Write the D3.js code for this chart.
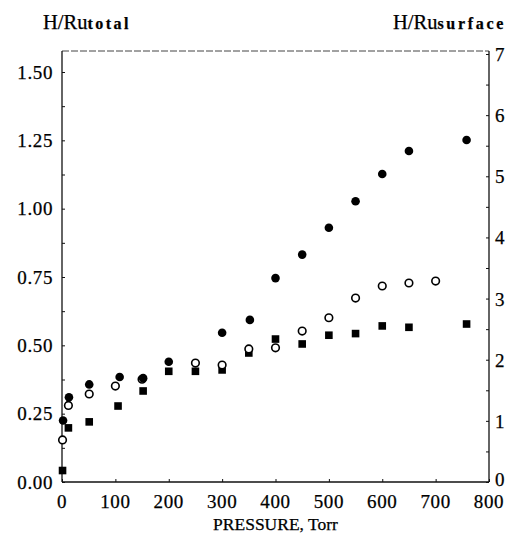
<!DOCTYPE html>
<html><head><meta charset="utf-8">
<script src="https://cdn.jsdelivr.net/npm/d3@7"></script>
<style>body{margin:0;background:#fff}svg{display:block}text{font-family:"Liberation Serif","DejaVu Serif",serif;fill:#000;stroke:#000;stroke-width:0.25}</style>
</head><body><svg id="c" width="507" height="538"></svg>
<script>
// Data: [pressure (Torr), H/Ru_total]
const filledCircles = [[2,0.225],[13,0.31],[51,0.357],[108,0.384],[152,0.38],[200,0.44],[300,0.546],[352,0.593],[400,0.746],[450,0.832],[500,0.93],[550,1.027],[600,1.127],[650,1.211],[758,1.251]];
const openCircles = [[1,0.154],[12,0.28],[51,0.322],[100,0.351],[150,0.376],[250,0.435],[300,0.428],[350,0.487],[400,0.491],[450,0.552],[500,0.601],[550,0.673],[600,0.717],[650,0.728],[700,0.735]];
const filledSquares = [[1,0.042],[12,0.198],[51,0.22],[105,0.278],[152,0.333],[200,0.405],[250,0.405],[300,0.41],[350,0.472],[400,0.523],[450,0.505],[500,0.537],[550,0.543],[600,0.571],[650,0.566],[758,0.578]];
const xTicks = [0,100,200,300,400,500,600,700,800];
const leftTicks = [0,0.25,0.5,0.75,1.0,1.25,1.5];
const rightTicks = [0,1,2,3,4,5,6,7];

const svg = d3.select("#c");
const L=62,R=489,T=51,B=482;
const x = d3.scaleLinear().domain([0,800]).range([L,R]);
const y = d3.scaleLinear().domain([0,1.5]).range([B,72]);
const y2 = d3.scaleLinear().domain([0,7]).range([B,54]);

// frame
svg.append("line").attr("x1",L).attr("x2",R).attr("y1",T).attr("y2",T).attr("stroke","#444").attr("stroke-width",1).attr("stroke-dasharray","7,2");
svg.append("line").attr("x1",L).attr("x2",R).attr("y1",B).attr("y2",B).attr("stroke","#111").attr("stroke-width",1.3);
svg.append("line").attr("x1",L).attr("x2",L).attr("y1",T).attr("y2",B).attr("stroke","#111").attr("stroke-width",1.3);
svg.append("line").attr("x1",R).attr("x2",R).attr("y1",T).attr("y2",B).attr("stroke","#111").attr("stroke-width",1.3);

// left axis
const ga = svg.append("g").attr("transform",`translate(${L},0)`)
  .call(d3.axisRight(y).tickValues(d3.range(0,1.5001,0.125)).tickSize(3).tickFormat(""));
ga.select(".domain").remove();
ga.selectAll("line").attr("stroke","#111");
svg.selectAll(".ll").data(leftTicks).join("text").attr("class","ll")
  .attr("x",53).attr("y",d=>y(d)+6.5).attr("text-anchor","end").attr("font-size",19).attr("letter-spacing",0.6).text(d=>d.toFixed(2));

// right axis
const gr = svg.append("g").attr("transform",`translate(${R},0)`)
  .call(d3.axisLeft(y2).tickValues(d3.range(0,7.001,0.5)).tickSize(3).tickFormat(""));
gr.select(".domain").remove();
gr.selectAll("line").attr("stroke","#111");
svg.selectAll(".rl").data(rightTicks).join("text").attr("class","rl")
  .attr("x",495).attr("y",d=>y2(d)+ (d===0?4:7)).attr("font-size",19).text(d=>d);

// bottom axis
const gb = svg.append("g").attr("transform",`translate(0,${B})`)
  .call(d3.axisTop(x).tickValues(xTicks).tickSize(3).tickFormat(""));
gb.select(".domain").remove();
gb.selectAll("line").attr("stroke","#111");
svg.selectAll(".bl").data(xTicks).join("text").attr("class","bl")
  .attr("x",d=>x(d)).attr("y",508).attr("text-anchor","middle").attr("font-size",19).attr("letter-spacing",0.6).text(d=>d);

svg.append("text").attr("x",(L+R)/2).attr("y",530).attr("text-anchor","middle").attr("font-size",17.5).text("PRESSURE, Torr");

// titles
const t1 = svg.append("text").attr("x",43).attr("y",29).attr("font-size",20.5);
t1.append("tspan").text("H/Ru");
t1.append("tspan").attr("font-size",16).attr("font-weight","bold").attr("textLength",41).attr("lengthAdjust","spacing").text("total");
const t2 = svg.append("text").attr("x",393).attr("y",29).attr("font-size",20.5);
t2.append("tspan").text("H/Ru");
t2.append("tspan").attr("font-size",16).attr("font-weight","bold").attr("textLength",66).attr("lengthAdjust","spacing").text("surface");

// marks
svg.selectAll(".fs").data(filledSquares).join("rect").attr("class","fs")
  .attr("x",d=>x(d[0])-3.8).attr("y",d=>y(d[1])-3.8).attr("width",7.6).attr("height",7.6).attr("fill","#000");
svg.selectAll(".oc").data(openCircles).join("circle").attr("class","oc")
  .attr("cx",d=>x(d[0])).attr("cy",d=>y(d[1])).attr("r",3.8).attr("fill","#fff").attr("stroke","#000").attr("stroke-width",1.6);
svg.selectAll(".fc").data(filledCircles).join("circle").attr("class","fc")
  .attr("cx",d=>x(d[0])).attr("cy",d=>y(d[1])).attr("r",4.3).attr("fill","#000");
</script></body></html>
